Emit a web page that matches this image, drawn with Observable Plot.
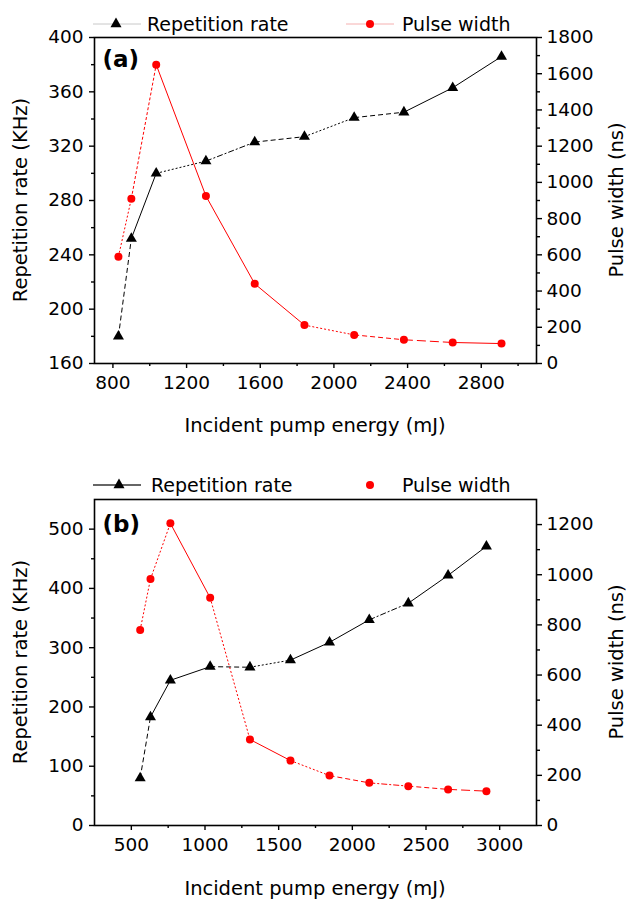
<!DOCTYPE html>
<html><head><meta charset="utf-8">
<script src="https://cdn.jsdelivr.net/npm/d3@7"></script>
<script src="https://cdn.jsdelivr.net/npm/@observablehq/plot@0.6"></script>
<style>
body{margin:0;background:#fff;}
.panel{position:relative;width:627px;height:450px;overflow:hidden;}
.panel svg{display:block;}
.panel svg.overlay{position:absolute;left:0;top:0;pointer-events:none;}
</style></head><body><div id="chart"></div>
<script>
// ---------- data ----------
const energyA = [830, 900, 1035, 1305, 1570, 1840, 2110, 2380, 2645, 2910];
const repRateA = [180, 252, 300, 309, 323, 327, 341, 345, 363, 386];
const pulseWidthA = [590, 910, 1650, 925, 440, 212, 158, 131, 116, 110];

const energyB = [560, 630, 765, 1035, 1305, 1580, 1845, 2115, 2380, 2650, 2910];
const repRateB = [80, 183, 245, 268, 267, 279, 309, 347, 375, 422, 471];
const pulseWidthB = [780, 983, 1205, 908, 343, 259, 199, 170, 157, 144, 137];

// tick values
const xTicksA = [800, 1200, 1600, 2000, 2400, 2800];
const xMinorA = [1000, 1400, 1800, 2200, 2600, 3000];
const leftTicksA = [160, 200, 240, 280, 320, 360, 400];
const leftMinorA = [180, 220, 260, 300, 340, 380];
const rightTicksA = [0, 200, 400, 600, 800, 1000, 1200, 1400, 1600, 1800];
const rightMinorA = [100, 300, 500, 700, 900, 1100, 1300, 1500, 1700];

const xTicksB = [500, 1000, 1500, 2000, 2500, 3000];
const xMinorB = [750, 1250, 1750, 2250, 2750];
const leftTicksB = [0, 100, 200, 300, 400, 500];
const leftMinorB = [50, 150, 250, 350, 450];
const rightTicksB = [0, 200, 400, 600, 800, 1000, 1200];
const rightMinorB = [100, 300, 500, 700, 900, 1100];

// text
const xTitle = "Incident pump energy (mJ)";
const yLeftTitle = "Repetition rate (KHz)";
const yRightTitle = "Pulse width (ns)";
const seriesNames = ["Repetition rate", "Pulse width"];

// ---------- style ----------
const DOT = "2,2", DASH = "5,3", LDASH = "9,4", DDOT = "6,2,2,2", SOLID = "none";
const dashRepA = [DASH, SOLID, DOT, DDOT, DASH, DOT, DASH, SOLID, SOLID];
const dashPwA  = [DOT, "3,2", SOLID, SOLID, SOLID, DOT, DASH, LDASH, SOLID];
const dashRepB = [DASH, SOLID, SOLID, DASH, DOT, SOLID, SOLID, DDOT, SOLID, SOLID];
const dashPwB  = [DOT, DOT, SOLID, DOT, SOLID, DOT, DASH, DDOT, DASH, LDASH];
const RED = "#f00";
const FONT = "DejaVu Sans, Liberation Sans, sans-serif";

function segments(xs, ys, dashes, conv) {
  const out = [];
  for (let i = 0; i < xs.length - 1; i++) {
    out.push({x1: xs[i], y1: conv(ys[i]), x2: xs[i + 1], y2: conv(ys[i + 1]), dash: dashes[i]});
  }
  return out;
}

function lineMarks(segs, color) {
  const groups = d3.group(segs, d => d.dash);
  const marks = [];
  for (const [dash, rows] of groups) {
    marks.push(Plot.link(rows, {x1: "x1", y1: "y1", x2: "x2", y2: "y2", stroke: color, strokeWidth: 1,
      strokeDasharray: dash === SOLID ? undefined : dash}));
  }
  return marks;
}

function panel(cfg) {
  const {energy, rep, pw, xDomain, yDomain, pwDomain, xTicks, xMinor, leftTicks, leftMinor,
    rightTicks, rightMinor, dashRep, dashPw, tag, marginTop, marginBottom, tagDy, legendY, legendStyle} = cfg;
  const k = (yDomain[1] - yDomain[0]) / (pwDomain[1] - pwDomain[0]);
  const conv = p => yDomain[0] + (p - pwDomain[0]) * k;
  const inv = v => Math.round(pwDomain[0] + (v - yDomain[0]) / k);
  const id = v => v;
  const repPts = energy.map((e, i) => ({e, v: rep[i]}));
  const pwPts = energy.map((e, i) => ({e, v: conv(pw[i])}));
  const W = 627, H = 450, ML = 94, MR = 91;

  const plot = Plot.plot({
    width: W, height: H,
    marginLeft: ML, marginRight: MR, marginTop, marginBottom,
    style: {fontFamily: FONT, fontSize: "18.5px", color: "black", background: "white"},
    x: {domain: xDomain, label: null},
    y: {domain: yDomain, label: null},
    marks: [
      Plot.axisX(xTicks, {tickSize: 5, tickPadding: 7, strokeWidth: 1.4, label: null, tickFormat: d => String(d)}),
      Plot.axisX(xMinor, {tickSize: 3, strokeWidth: 1.4, label: null, tickFormat: () => ""}),
      Plot.axisY(leftTicks, {anchor: "left", tickSize: 5, tickPadding: 6, strokeWidth: 1.4, label: null, tickFormat: d => String(d)}),
      Plot.axisY(leftMinor, {anchor: "left", tickSize: 3, strokeWidth: 1.4, label: null, tickFormat: () => ""}),
      Plot.axisY(rightTicks.map(conv), {anchor: "right", tickSize: 5, tickPadding: 5, strokeWidth: 1.4, label: null, tickFormat: v => String(inv(v))}),
      Plot.axisY(rightMinor.map(conv), {anchor: "right", tickSize: 3, strokeWidth: 1.4, label: null, tickFormat: () => ""}),
      Plot.frame({stroke: "black", strokeWidth: 1.6}),
      ...lineMarks(segments(energy, rep, dashRep, id), "black"),
      ...lineMarks(segments(energy, pw, dashPw, conv), RED),
      Plot.dot(repPts, {x: "e", y: "v", symbol: "triangle", r: 4.1, fill: "black", stroke: "none"}),
      Plot.dot(pwPts, {x: "e", y: "v", r: 4, fill: RED, stroke: "none"}),
      Plot.text([tag], {frameAnchor: "top-left", dx: 8, dy: tagDy, textAnchor: "start", lineAnchor: "middle",
        fontSize: 23, fontWeight: "bold", fontFamily: FONT})
    ]
  });

  const div = document.createElement("div");
  div.className = "panel";
  div.appendChild(plot);

  // overlay: legend and axis titles
  const frameMidX = ML + (W - ML - MR) / 2;
  const frameMidY = marginTop + (H - marginTop - marginBottom) / 2;
  const frameBottom = H - marginBottom;
  const svg = d3.create("svg").attr("class", "overlay").attr("width", W).attr("height", H)
    .style("font-family", FONT).style("font-size", "19px");
  svg.append("text").attr("x", frameMidX).attr("y", frameBottom + cfg.xTitleDy).attr("dy", "0.36em")
    .attr("text-anchor", "middle").style("font-size", "19.5px").text(xTitle);
  svg.append("text").attr("transform", `translate(20,${frameMidY}) rotate(-90)`).attr("dy", "0.36em")
    .attr("text-anchor", "middle").style("font-size", "19.5px").text(yLeftTitle);
  svg.append("text").attr("transform", `translate(616,${frameMidY}) rotate(-90)`).attr("dy", "0.36em")
    .attr("text-anchor", "middle").style("font-size", "19.5px").text(yRightTitle);

  const g1 = svg.append("g");
  g1.append("line").attr("x1", 93).attr("x2", 141).attr("y1", legendY).attr("y2", legendY)
    .attr("stroke", legendStyle.repLine).attr("stroke-width", legendStyle.repWidth);
  g1.append("path").attr("d", d3.symbol(d3.symbolTriangle, Math.PI * 4.1 * 4.1)())
    .attr("transform", `translate(${legendStyle.triX},${legendY})`).attr("fill", "black");
  g1.append("text").attr("x", legendStyle.repTextX).attr("y", legendY).attr("dy", "0.36em").text(seriesNames[0]);
  const g2 = svg.append("g");
  if (legendStyle.pwLine) {
    g2.append("line").attr("x1", 346).attr("x2", 394).attr("y1", legendY).attr("y2", legendY)
      .attr("stroke", legendStyle.pwLine).attr("stroke-width", 1);
  }
  g2.append("circle").attr("cx", 370).attr("cy", legendY).attr("r", 4).attr("fill", RED);
  g2.append("text").attr("x", 402).attr("y", legendY).attr("dy", "0.36em").text(seriesNames[1]);
  div.appendChild(svg.node());
  return div;
}

const root = document.getElementById("chart");
root.appendChild(panel({
  energy: energyA, rep: repRateA, pw: pulseWidthA,
  xDomain: [700, 3100], yDomain: [160, 400], pwDomain: [0, 1800],
  xTicks: xTicksA, xMinor: xMinorA, leftTicks: leftTicksA, leftMinor: leftMinorA,
  rightTicks: rightTicksA, rightMinor: rightMinorA,
  dashRep: dashRepA, dashPw: dashPwA, tag: "(a)",
  marginTop: 37, marginBottom: 87, tagDy: 22, xTitleDy: 62, legendY: 24,
  legendStyle: {repLine: "#c8c8c8", repWidth: 1, triX: 116, repTextX: 147, pwLine: "#f5b0b0"}
}));
root.appendChild(panel({
  energy: energyB, rep: repRateB, pw: pulseWidthB,
  xDomain: [250, 3250], yDomain: [0, 550], pwDomain: [0, 1300],
  xTicks: xTicksB, xMinor: xMinorB, leftTicks: leftTicksB, leftMinor: leftMinorB,
  rightTicks: rightTicksB, rightMinor: rightMinorB,
  dashRep: dashRepB, dashPw: dashPwB, tag: "(b)",
  marginTop: 49, marginBottom: 75, tagDy: 25, xTitleDy: 63, legendY: 35,
  legendStyle: {repLine: "#333", repWidth: 1.3, triX: 119, repTextX: 151, pwLine: null}
}));
</script></body></html>
